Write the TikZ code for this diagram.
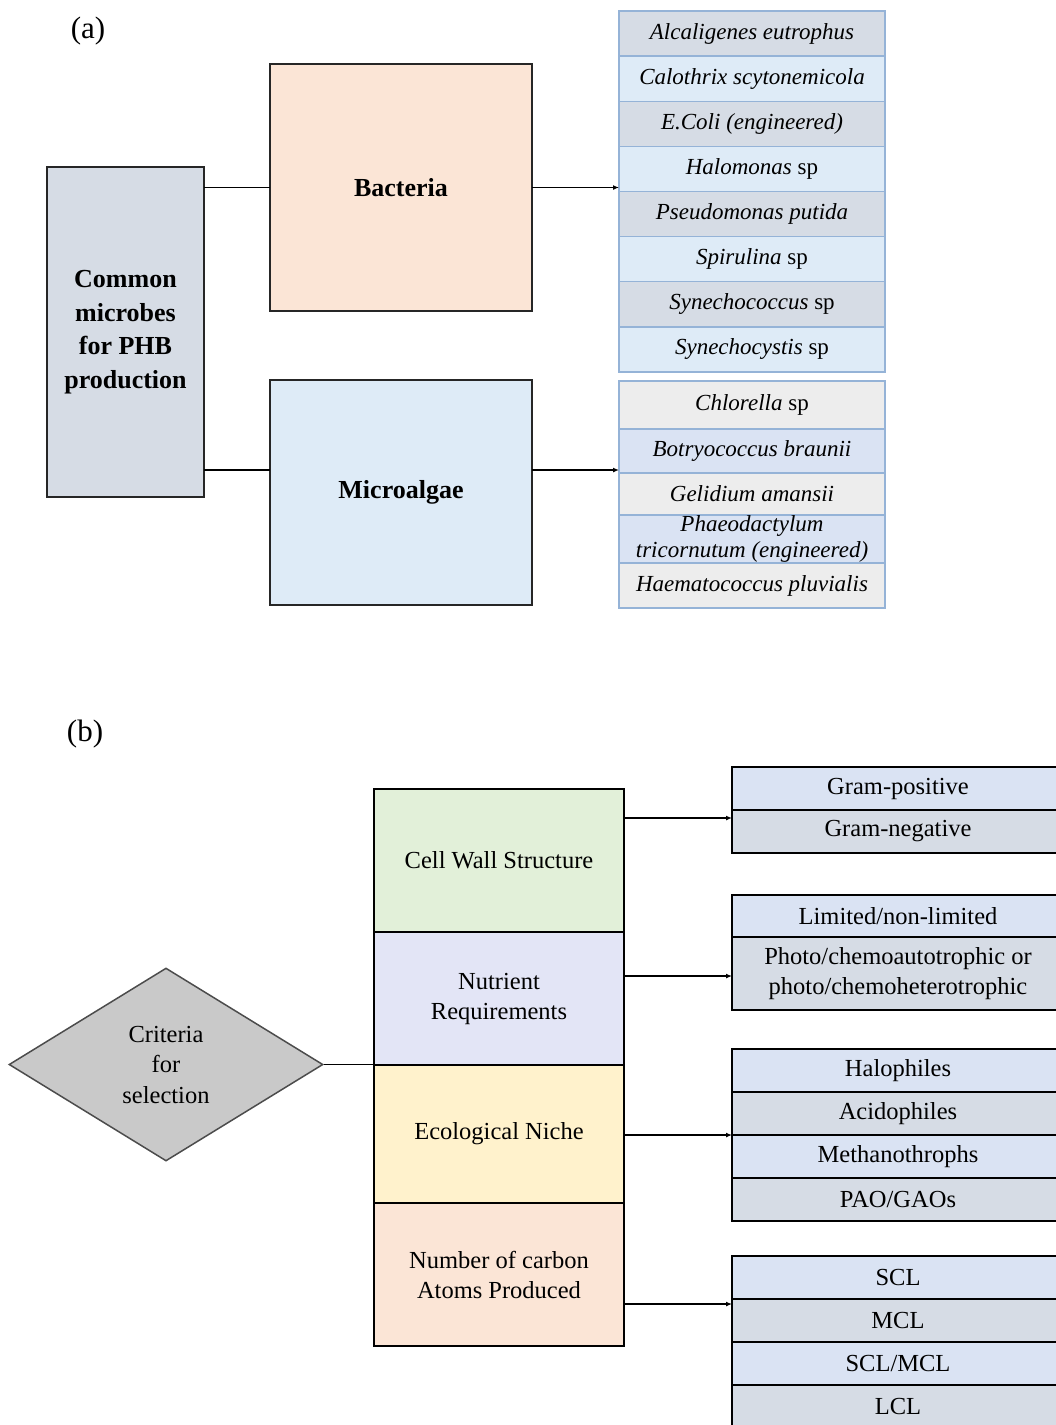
\documentclass[tikz,border=0pt]{standalone}
\usepackage{fontspec}
\setmainfont{Liberation Serif}
\usetikzlibrary{positioning,shapes.geometric,arrows.meta}
\definecolor{commonfill}{HTML}{D6DCE5}
\definecolor{bacfill}{HTML}{FBE5D6}
\definecolor{algfill}{HTML}{DEEBF7}
\definecolor{rowgray}{HTML}{D6DCE5}
\definecolor{rowblue}{HTML}{DEEBF7}
\definecolor{rowlight}{HTML}{EDEDED}
\definecolor{rowsteel}{HTML}{DAE3F3}
\definecolor{rowline}{HTML}{95B3D7}
\definecolor{critfill}{HTML}{C9C9C9}
\definecolor{wallfill}{HTML}{E2F0D9}
\definecolor{nutfill}{HTML}{E3E5F6}
\definecolor{nichefill}{HTML}{FFF2CC}
\definecolor{carbfill}{HTML}{FBE5D6}
\tikzset{
  bigbox/.style={draw, line width=1.9pt, draw=black!85, inner sep=0pt, outer sep=0pt, align=center,
    font=\fontsize{26}{33.5}\selectfont\bfseries},
  specrow/.style={draw=rowline, line width=1.5pt, inner sep=0pt, outer sep=0pt,
    minimum width=266pt, align=center, font=\fontsize{23}{26}\selectfont\itshape},
  stackbox/.style={draw, line width=1.6pt, inner sep=0pt, outer sep=0pt,
    minimum width=250pt, align=center, font=\fontsize{24.5}{30}\selectfont},
  listrow/.style={draw, line width=1.6pt, inner sep=0pt, outer sep=0pt,
    minimum width=332pt, minimum height=43pt, align=center, font=\fontsize{24.5}{30}\selectfont},
  arr/.style={-{Latex[length=6pt,width=5pt]}, line width=1.6pt},
  link/.style={line width=1.7pt}
}
\begin{document}
\begin{tikzpicture}[x=1pt,y=-1pt]
\useasboundingbox (0,0) rectangle (1056,1425);
% (a)
\node[font=\fontsize{31}{31}\selectfont] (la) at (88,31) {(a)};
\node[bigbox, fill=commonfill, minimum width=157pt, minimum height=330pt] (common) at (125.5,332) {Common\\microbes\\for PHB\\production};
\node[bigbox, fill=bacfill, minimum width=262pt, minimum height=247pt] (bacteria) at (401,187.5) {Bacteria};
\node[bigbox, fill=algfill, minimum width=262pt, minimum height=225pt] (microalgae) at (401,492.5) {Microalgae};
% bacteria species
\node[specrow, fill=rowgray, minimum height=45.1pt] (bac1) at (752,33.6) {Alcaligenes eutrophus};
\node[specrow, fill=rowblue, minimum height=45.1pt, below=0pt of bac1] (bac2) {Calothrix scytonemicola};
\node[specrow, fill=rowgray, minimum height=45.1pt, below=0pt of bac2] (bac3) {E.Coli (engineered)};
\node[specrow, fill=rowblue, minimum height=45.1pt, below=0pt of bac3] (bac4) {Halomonas \textup{sp}};
\node[specrow, fill=rowgray, minimum height=45.1pt, below=0pt of bac4] (bac5) {Pseudomonas putida};
\node[specrow, fill=rowblue, minimum height=45.1pt, below=0pt of bac5] (bac6) {Spirulina \textup{sp}};
\node[specrow, fill=rowgray, minimum height=45.1pt, below=0pt of bac6] (bac7) {Synechococcus \textup{sp}};
\node[specrow, fill=rowblue, minimum height=45.1pt, below=0pt of bac7] (bac8) {Synechocystis \textup{sp}};
% microalgae species
\node[specrow, fill=rowlight, minimum height=48pt] (alg1) at (752,405) {Chlorella \textup{sp}};
\node[specrow, fill=rowsteel, minimum height=44pt, below=0pt of alg1] (alg2) {Botryococcus braunii};
\node[specrow, fill=rowlight, minimum height=42pt, below=0pt of alg2] (alg3) {Gelidium amansii};
\node[specrow, fill=rowsteel, minimum height=48pt, below=0pt of alg3] (alg4) {Phaeodactylum\\tricornutum (engineered)};
\node[specrow, fill=rowlight, minimum height=45pt, below=0pt of alg4] (alg5) {Haematococcus pluvialis};
% connectors (a)
\coordinate (mA) at (270,470);
\draw[link] (bacteria.west -| common.east) -- (bacteria.west);
\draw[link] (mA -| common.east) -- (mA);
\draw[arr] (bacteria.east) -- (bacteria.east -| bac4.west);
\draw[arr] (microalgae.east |- mA) -- (alg1.west |- mA);
% (b)
\node[font=\fontsize{31}{31}\selectfont] (lb) at (85,734) {(b)};
\node[diamond, draw=black!70, line width=1.5pt, fill=critfill, inner sep=0pt, minimum width=314pt, minimum height=193pt,
  align=center, font=\fontsize{24.5}{30.5}\selectfont] (crit) at (166,1064.5) {Criteria\\for\\selection};
\node[stackbox, fill=wallfill, minimum height=143pt] (wall) at (499,860.5) {Cell Wall Structure};
\node[stackbox, fill=nutfill, minimum height=133pt, below=0pt of wall] (nutrient) {Nutrient\\Requirements};
\node[stackbox, fill=nichefill, minimum height=138pt, below=0pt of nutrient] (niche) {Ecological Niche};
\node[stackbox, fill=carbfill, minimum height=143pt, below=0pt of niche] (carbon) {Number of carbon\\Atoms Produced};
\draw[link] (crit.east) -- (crit.east -| wall.west);
% lists (b)
\node[listrow, fill=rowsteel] (gram1) at (898,788.5) {Gram-positive};
\node[listrow, fill=rowgray, below=0pt of gram1] (gram2) {Gram-negative};
\node[listrow, fill=rowsteel, minimum height=42pt] (nut1) at (898,916) {Limited/non-limited};
\node[listrow, fill=rowgray, minimum height=73pt, below=0pt of nut1] (nut2) {Photo/chemoautotrophic or\\photo/chemoheterotrophic};
\node[listrow, fill=rowsteel] (halo1) at (898,1070.5) {Halophiles};
\node[listrow, fill=rowgray, below=0pt of halo1] (halo2) {Acidophiles};
\node[listrow, fill=rowsteel, below=0pt of halo2] (halo3) {Methanothrophs};
\node[listrow, fill=rowgray, below=0pt of halo3] (halo4) {PAO/GAOs};
\node[listrow, fill=rowsteel] (scl1) at (898,1277.5) {SCL};
\node[listrow, fill=rowgray, below=0pt of scl1] (scl2) {MCL};
\node[listrow, fill=rowsteel, below=0pt of scl2] (scl3) {SCL/MCL};
\node[listrow, fill=rowgray, below=0pt of scl3] (scl4) {LCL};
% arrows (b)
\coordinate (p1) at (624,818);
\coordinate (p2) at (624,976);
\coordinate (p3) at (624,1135);
\coordinate (p4) at (624,1304);
\draw[arr] (p1) -- (p1 -| gram1.west);
\draw[arr] (p2) -- (p2 -| nut1.west);
\draw[arr] (p3) -- (p3 -| halo1.west);
\draw[arr] (p4) -- (p4 -| scl1.west);
\end{tikzpicture}
\end{document}
